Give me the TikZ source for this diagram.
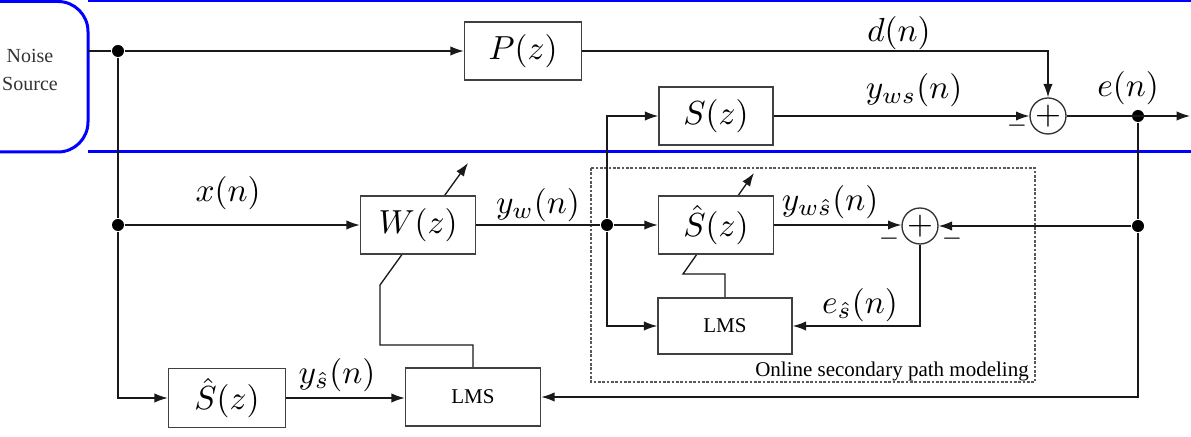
\documentclass[tikz,border=0pt]{standalone}
\usepackage{fontspec}
\setmainfont{Liberation Serif}
\usetikzlibrary{arrows.meta,backgrounds,calc}
\tikzset{
  blk/.style={draw=black!75, line width=0.45pt, fill=white, inner sep=0pt},
  sumc/.style={draw=black!80, line width=0.4pt, circle, fill=white, minimum size=10.8pt, inner sep=0pt},
  dotn/.style={circle, fill=black, minimum size=3.6pt, inner sep=0pt},
  lbl/.style={inner sep=0pt},
  txt/.style={inner sep=0pt, font=\fontsize{6.3}{7.5}\selectfont},
  conn/.style={line width=0.4pt, black!90},
  arr/.style={conn, -{Latex[length=4pt,width=2.8pt]}},
  srcblue/.style={blue, line width=0.9pt},
}
\begin{document}
\begin{tikzpicture}[x=0.3pt,y=-0.3pt]
\useasboundingbox (0,0) rectangle (1191,437);
% noise source
\draw[srcblue, rounded corners=9pt] (-40,1.5) -- (88,1.5) -- (88,152) -- (-40,152);
\coordinate (srcE) at (88,51);
\draw[blue, line width=0.6pt] (88,1.5) -- (1191,1.5);
\draw[srcblue] (88,152) -- (1191,152);
\node[inner sep=0pt, align=center, text=black!80, font=\fontsize{6}{8.4}\selectfont] (noise) at (30,70) {Noise\\Source};
% dashed box
\draw[dash pattern=on 0.8pt off 0.5pt, black!65, line width=0.45pt] (591,168) rectangle (1035,382);
\node[txt] (online) at (892,371) {Online secondary path modeling};
% blocks
\node[blk, minimum width=35.1pt, minimum height=17.4pt] (P) at (523,51) {$P(z)$};
\node[blk, minimum width=34.2pt, minimum height=17.4pt] (S) at (716,116) {$S(z)$};
\node[blk, minimum width=34.5pt, minimum height=17.4pt] (W) at (418,225) {$W(z)$};
\node[blk, minimum width=34.5pt, minimum height=17.4pt] (Sh) at (716,225) {$\hat{S}(z)$};
\node[blk, minimum width=40.2pt, minimum height=16.8pt, font=\fontsize{6.3}{7.5}\selectfont] (LMSi) at (725,326) {LMS};
\node[blk, minimum width=35.1pt, minimum height=17.7pt] (Sho) at (227,398) {$\hat{S}(z)$};
\node[blk, minimum width=40.5pt, minimum height=17.4pt, font=\fontsize{6.3}{7.5}\selectfont] (LMSo) at (473,397) {LMS};
\node[sumc] (sum1) at (1048,116) {$+$};
\node[sumc] (sum2) at (920,226) {$+$};
% junctions
\node[dotn] (d1) at (118,51) {};
\node[dotn] (d2) at (118,225) {};
\node[dotn] (d3) at (607,225) {};
\node[dotn] (de1) at (1138,116) {};
\node[dotn] (de2) at (1138,226) {};
\coordinate (eout) at (1190,116);
% adaptive lines (behind blocks)
\coordinate (wa) at (380,345);
\coordinate (wb) at (380,285);
\coordinate (wtip) at (468,163);
\coordinate (sa) at (683,274);
\coordinate (stip) at (754,173);
\begin{scope}[on background layer]
\draw[arr] (LMSo.north) |- (wa) -- (wb) -- (wtip);
\draw[arr] (LMSi.north) |- (sa) -- (stip);
\end{scope}
% connectors
\draw[conn] (srcE) -- (d1);
\draw[arr] (d1) -- (P.west);
\draw[arr] (P.east) -| (sum1.north);
\draw[arr] (S.east) -- (sum1.west);
\draw[arr] (sum1.east) -- (eout);
\draw[conn] (d1) -- (d2);
\draw[arr] (d2) -- (W.west);
\draw[arr] (d2) |- (Sho.west);
\draw[arr] (Sho.east) -- (Sho.east -| LMSo.west);
\draw[conn] (W.east) -- (d3);
\draw[arr] (d3) -- (Sh.west);
\draw[arr] (d3) |- (S.west);
\draw[arr] (d3) |- (LMSi.west);
\draw[arr] (Sh.east) -- (Sh.east -| sum2.west);
\draw[conn] (de1) -- (de2);
\draw[arr] (de2) |- (LMSo.east);
\draw[arr] (de2) -- (sum2.east);
\draw[arr] (sum2.south) |- (LMSi.east);
% labels
\node[lbl] (ld) at (899,33) {$d(n)$};
\node[lbl] (lyws) at (914,90) {$y_{ws}(n)$};
\node[lbl] (le) at (1128,88) {$e(n)$};
\node[lbl] (lx) at (228,193) {$x(n)$};
\node[lbl] (lyw) at (538,205) {$y_{w}(n)$};
\node[lbl] (lywsh) at (830,202) {$y_{w\hat{s}}(n)$};
\node[lbl] (lesh) at (860,305) {$e_{\hat{s}}(n)$};
\node[lbl] (lysh) at (337,375) {$y_{\hat{s}}(n)$};
\node[lbl] (m1) at (1017,126) {$\scriptstyle -$};
\node[lbl] (m2) at (889,239) {$\scriptstyle -$};
\node[lbl] (m3) at (952,239) {$\scriptstyle -$};
\end{tikzpicture}
\end{document}
